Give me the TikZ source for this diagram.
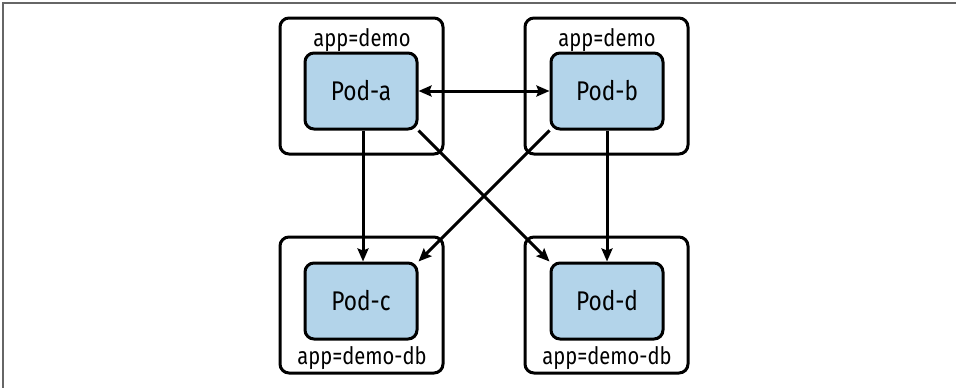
\documentclass[tikz,border=0pt]{standalone}
\usepackage{fontspec}
\setmainfont{Fira Sans}[FakeStretch=0.84]
\usetikzlibrary{arrows.meta}
\definecolor{podblue}{RGB}{179,212,234}

\begin{document}
\begin{tikzpicture}[
  x=1pt, y=-1pt,
  >={Stealth[length=13pt,width=11pt,inset=2pt]},
  every node/.style={align=center},
  podgroup/.style={draw, line width=3pt, rounded corners=9pt, minimum width=163pt, minimum height=136pt, inner sep=0pt},
  pod/.style={draw, line width=3pt, rounded corners=9pt, fill=podblue, minimum width=112pt, minimum height=76pt, inner sep=0pt, font=\fontsize{27}{30}\selectfont},
  grplabel/.style={inner sep=0pt, anchor=base, font=\fontsize{24}{27}\selectfont},
  arr/.style={->, line width=3pt},
  pageline/.style={draw=black!60, line width=2pt}
]
\useasboundingbox (0,0) rectangle (956,388);
\draw[pageline] (3,388) -- (3,3) -- (956,3);

% selector groups
\node[podgroup] (ga) at (361.5,86) {};
\node[podgroup] (gb) at (606.5,86) {};
\node[podgroup] (gc) at (361.5,305) {};
\node[podgroup] (gd) at (606.5,305) {};

% labels
\node[grplabel] (la) at (362,46) {app=demo};
\node[grplabel] (lb) at (607,46) {app=demo};
\node[grplabel] (lc) at (362,364) {app=demo-db};
\node[grplabel] (ld) at (607,364) {app=demo-db};

% pods
\node[pod] (pa) at (361,91) {Pod-a};
\node[pod] (pb) at (607,91) {Pod-b};
\node[pod] (pc) at (361,301) {Pod-c};
\node[pod] (pd) at (607,301) {Pod-d};

\draw[arr, <->] (pa) -- (pb);
\draw[arr] (pa.south) ++(2,0) coordinate (sa) -- (sa |- pc.north);
\draw[arr] (pb) -- (pd);
\draw[arr] (pa.south east) -- (pd.north west);
\draw[arr] (pb.south west) -- (pc.north east);
\end{tikzpicture}
\end{document}
